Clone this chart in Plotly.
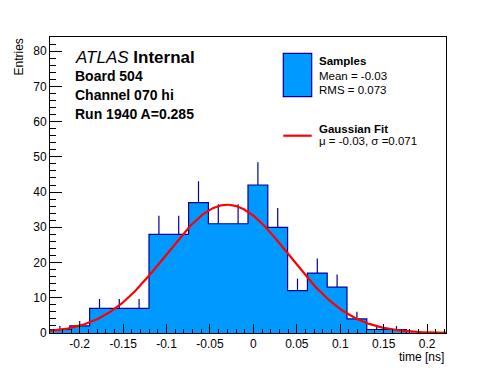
import numpy as np
import plotly.graph_objects as go

# ---- data ----
x_min = -0.2342
x_max = 0.2218
n_bins = 20
counts = [1, 2, 7, 7, 7, 28, 28, 37, 31, 31, 42, 30, 12, 17, 13, 4, 1, 1, 0, 0]

fit_mu = -0.03
fit_sigma = 0.071
fit_amp = 36.4

x_tick_vals = [-0.2, -0.15, -0.1, -0.05, 0.0, 0.05, 0.1, 0.15, 0.2]
x_tick_text = ["-0.2", "-0.15", "-0.1", "-0.05", "0", "0.05", "0.1", "0.15", "0.2"]
y_tick_vals = [0, 10, 20, 30, 40, 50, 60, 70, 80]
y_tick_text = ["0", "10", "20", "30", "40", "50", "60", "70", "80"]
y_max = 84

info_lines = ["<i>ATLAS</i> <b>Internal</b>", "<b>Board 504</b>", "<b>Channel 070 hi</b>",
              "<b>Run 1940 A=0.285</b>"]
legend_hist = ["<b>Samples</b>", "Mean = -0.03", "RMS = 0.073"]
legend_fit = ["<b>Gaussian Fit</b>", "μ = -0.03, σ =0.071"]

# ---- styling ----
FONT = "Liberation Sans, Arial, Helvetica, sans-serif"
FILL = "#0099ff"
EDGE = "#000099"
W, H = 496, 372
ML, MR, MT, MB = 50, 50, 37, 39
PW, PH = W - ML - MR, H - MT - MB


def px(xp):
    return (xp - ML) / PW


def py(yp):
    return (H - MB - yp) / PH


edges = np.linspace(x_min, x_max, n_bins + 1)
centers = 0.5 * (edges[:-1] + edges[1:])
cnt = np.array(counts, dtype=float)
errs = np.sqrt(cnt)

fig = go.Figure()

# histogram (filled steps)
fig.add_trace(go.Scatter(
    x=edges, y=list(counts) + [counts[-1]],
    mode="lines", line=dict(shape="hv", color=EDGE, width=1.2),
    fill="tozeroy", fillcolor=FILL, hoverinfo="skip"))

# error bars (upper half visible above the filled histogram)
fig.add_trace(go.Scatter(
    x=centers, y=cnt, mode="markers",
    marker=dict(size=1, opacity=0),
    error_y=dict(type="data", symmetric=False, array=errs,
                 arrayminus=np.zeros_like(errs), width=0,
                 color=EDGE, thickness=1.2),
    hoverinfo="skip"))

# gaussian fit
xs = np.linspace(x_min, x_max, 300)
ys = fit_amp * np.exp(-0.5 * ((xs - fit_mu) / fit_sigma) ** 2)
fig.add_trace(go.Scatter(x=xs, y=ys, mode="lines",
                         line=dict(color="#ff0000", width=2.2), hoverinfo="skip"))

annotations = []
# info text
info_y = [57.5, 75.5, 95.5, 113.5]
info_size = [17, 14, 14, 14]
for t, yy, s in zip(info_lines, info_y, info_size):
    annotations.append(dict(text=t, x=px(73), y=py(yy), xref="paper", yref="paper",
                            xanchor="left", yanchor="middle", showarrow=False,
                            font=dict(family=FONT, size=s, color="black")))

# legend texts
for t, yy in zip(legend_hist + legend_fit, [61, 76, 90, 128.5, 141]):
    annotations.append(dict(text=t, x=px(316.5), y=py(yy), xref="paper", yref="paper",
                            xanchor="left", yanchor="middle", showarrow=False,
                            font=dict(family=FONT, size=11.5, color="black")))

# axis titles
annotations.append(dict(text="time [ns]", x=1, y=py(357), xref="paper", yref="paper",
                        xanchor="right", yanchor="middle", showarrow=False,
                        font=dict(family=FONT, size=12, color="black")))
annotations.append(dict(text="Entries", x=px(18), y=1, xref="paper", yref="paper",
                        xanchor="center", yanchor="top", textangle=-90, showarrow=False,
                        font=dict(family=FONT, size=12, color="black")))

shapes = [
    dict(type="rect", xref="paper", yref="paper", x0=px(283.3), x1=px(311.7),
         y0=py(96.7), y1=py(53.3), fillcolor=FILL, line=dict(color=EDGE, width=1.2)),
    dict(type="line", xref="paper", yref="paper", x0=px(283.3), x1=px(311.7),
         y0=py(135.7), y1=py(135.7), line=dict(color="#ff0000", width=2.2)),
]

axis_common = dict(showline=True, linecolor="black", linewidth=1, mirror=True,
                   ticks="inside", tickcolor="black", tickwidth=1,
                   showgrid=False, zeroline=False,
                   tickfont=dict(family=FONT, size=12, color="black"))

fig.update_layout(
    width=W, height=H, margin=dict(l=ML, r=MR, t=MT, b=MB),
    paper_bgcolor="white", plot_bgcolor="white", showlegend=False,
    xaxis=dict(range=[x_min, x_max], tickmode="array", tickvals=x_tick_vals,
               ticktext=x_tick_text, ticklen=9,
               minor=dict(ticks="inside", ticklen=4.5, tickmode="linear", tick0=0,
                          dtick=0.01, tickcolor="black", tickwidth=1, showgrid=False),
               **axis_common),
    yaxis=dict(range=[0, y_max], tickmode="array", tickvals=y_tick_vals,
               ticktext=y_tick_text, ticklen=12,
               minor=dict(ticks="inside", ticklen=6, tickmode="linear", tick0=0,
                          dtick=2, tickcolor="black", tickwidth=1, showgrid=False),
               **axis_common),
    annotations=annotations, shapes=shapes,
)

fig.write_html("out.html", config={"displayModeBar": False},
               post_script="document.body.style.margin='0';document.body.style.padding='0';")
